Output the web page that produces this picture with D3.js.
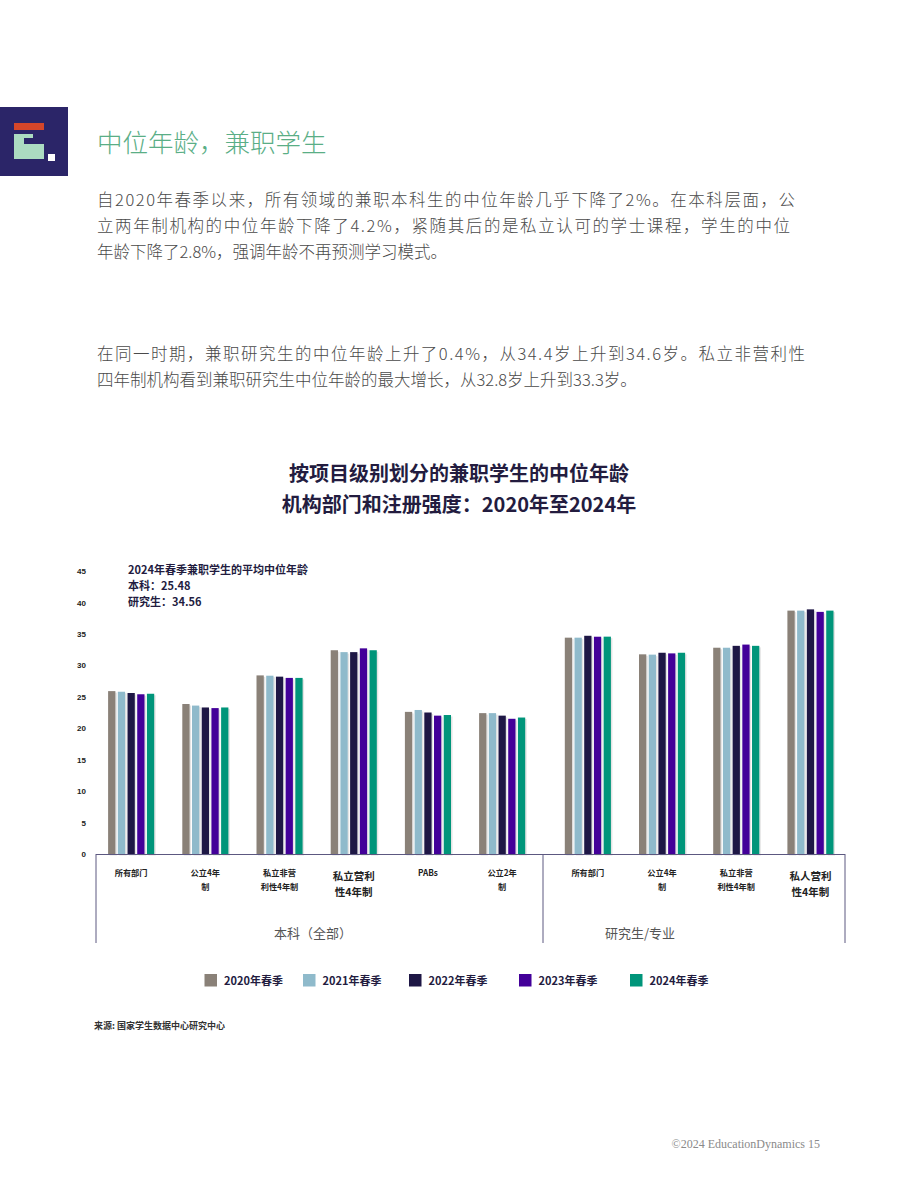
<!DOCTYPE html>
<html lang="zh">
<head>
<meta charset="UTF-8">
<title>中位年龄，兼职学生</title>
<style>
    body { margin: 0; background: #fff; }
    svg { display: block; font-family: "Noto Sans CJK SC", "Noto Sans", sans-serif; }
    .para { font-size: 16.5px; fill: #4a4a4a; font-weight: 300; }
    .tick-label { font-size: 8px; font-weight: 700; fill: #222; }
    .cat { font-weight: 700; fill: #222; }
</style>
</head>
<body>
<div id="chart"></div>
<script src="https://d3js.org/d3.v7.min.js"></script>
<script>
    // data
    var years = ["2020年春季", "2021年春季", "2022年春季", "2023年春季", "2024年春季"];
    var ugCats = ["所有部门", "公立4年\n制", "私立非营\n利性4年制", "私立营利\n性4年制", "PABs", "公立2年\n制"];
    var grCats = ["所有部门", "公立4年\n制", "私立非营\n利性4年制", "私人营利\n性4年制"];
    var v2020 = [25.9, 23.85, 28.4, 32.4, 22.6, 22.4, 34.4, 31.75, 32.8, 38.7];
    var v2021 = [25.8, 23.6, 28.35, 32.1, 22.9, 22.4, 34.4, 31.7, 32.8, 38.7];
    var v2022 = [25.6, 23.3, 28.2, 32.1, 22.5, 22.0, 34.7, 32.0, 33.1, 38.9];
    var v2023 = [25.4, 23.2, 28.0, 32.7, 22.0, 21.5, 34.55, 31.9, 33.3, 38.5];
    var v2024 = [25.48, 23.3, 28.0, 32.4, 22.1, 21.7, 34.56, 32.0, 33.1, 38.7];
    var yTicks = [0, 5, 10, 15, 20, 25, 30, 35, 40, 45];
    var colors = ["#8a8178", "#8fbacb", "#1e1745", "#430099", "#00957a"];
    var bigLabels = ["私立营利\n性4年制", "私人营利\n性4年制"];

    var series = [v2020, v2021, v2022, v2023, v2024];

    var svg = d3.select("#chart").append("svg")
        .attr("width", 920)
        .attr("height", 1191);

    // header logo
    var logo = svg.append("g");
    logo.append("rect").attr("x", 0).attr("y", 107).attr("width", 68).attr("height", 69).attr("fill", "#2b2568");
    logo.append("rect").attr("x", 14).attr("y", 123).attr("width", 30).attr("height", 7).attr("fill", "#d5462a");
    logo.append("path").attr("d", "M14,134 H33 V138 H24 V144 H44 V159 H14 Z").attr("fill", "#acdbc1");
    logo.append("rect").attr("x", 48).attr("y", 154).attr("width", 7).attr("height", 7).attr("fill", "#fff");

    svg.append("text").attr("x", 97).attr("y", 152)
        .attr("font-size", 25.5).attr("font-weight", 300).attr("fill", "#5aae86")
        .text("中位年龄，兼职学生");

    var para1 = ["自2020年春季以来，所有领域的兼职本科生的中位年龄几乎下降了2%。在本科层面，公",
        "立两年制机构的中位年龄下降了4.2%，紧随其后的是私立认可的学士课程，学生的中位",
        "年龄下降了2.8%，强调年龄不再预测学习模式。"];
    var para2 = ["在同一时期，兼职研究生的中位年龄上升了0.4%，从34.4岁上升到34.6岁。私立非营利性",
        "四年制机构看到兼职研究生中位年龄的最大增长，从32.8岁上升到33.3岁。"];
    var len1 = [698, 693, null], len2 = [708, null];

    para1.forEach(function(t, i) {
        var el = svg.append("text").attr("class", "para").attr("x", 97).attr("y", 206 + i * 26).text(t);
        if (len1[i]) el.attr("textLength", len1[i]).attr("lengthAdjust", "spacing");
    });
    para2.forEach(function(t, i) {
        var el = svg.append("text").attr("class", "para").attr("x", 97).attr("y", 360 + i * 26).text(t);
        if (len2[i]) el.attr("textLength", len2[i]).attr("lengthAdjust", "spacing");
    });

    // chart title
    svg.append("text").attr("x", 459).attr("y", 481).attr("text-anchor", "middle")
        .attr("font-size", 20).attr("font-weight", 700).attr("fill", "#231c3f")
        .text("按项目级别划分的兼职学生的中位年龄");
    svg.append("text").attr("x", 459).attr("y", 512).attr("text-anchor", "middle")
        .attr("font-size", 20).attr("font-weight", 700).attr("fill", "#231c3f")
        .text("机构部门和注册强度：2020年至2024年");

    // scales
    var y = d3.scaleLinear().domain([0, 45]).range([854, 571]);
    var xUg = d3.scaleBand().domain(ugCats).range([94, 539.2]);
    var xGr = d3.scaleBand().domain(grCats).range([550.7, 847.5]);
    var inner = d3.scaleBand().domain(years).range([0, 46.1]).paddingInner(0.25);

    var groups = ugCats.map(function(c, i) { return {cat: c, idx: i, cx: xUg(c) + xUg.bandwidth() / 2}; })
        .concat(grCats.map(function(c, i) { return {cat: c, idx: i + ugCats.length, cx: xGr(c) + xGr.bandwidth() / 2}; }));

    // y axis labels
    var yAxis = svg.append("g").attr("transform", "translate(86,0)")
        .call(d3.axisLeft(y).tickValues(yTicks).tickSize(0).tickPadding(0));
    yAxis.select(".domain").remove();
    yAxis.selectAll("text").attr("class", "tick-label").attr("font-family", null).attr("font-size", null);

    // bars
    var g = svg.append("g");
    groups.forEach(function(gr) {
        var x0 = gr.cx - 23;
        var bars = years.map(function(yr, s) { return {yr: yr, s: s, v: series[s][gr.idx]}; });
        g.selectAll(null).data(bars).enter().append("rect")
            .attr("x", function(d) { return x0 + inner(d.yr) + 1.5; })
            .attr("y", function(d) { return y(d.v) + 1.5; })
            .attr("width", inner.bandwidth())
            .attr("height", function(d) { return y(0) - y(d.v); })
            .attr("fill", "#d9d9d9").attr("opacity", 0.7);
        g.selectAll(null).data(bars).enter().append("rect")
            .attr("x", function(d) { return x0 + inner(d.yr); })
            .attr("y", function(d) { return y(d.v); })
            .attr("width", inner.bandwidth())
            .attr("height", function(d) { return y(0) - y(d.v); })
            .attr("fill", function(d) { return colors[d.s]; });
    });

    // axis line and section dividers
    var lineColor = "#5c5880";
    svg.append("line").attr("x1", 96).attr("x2", 845).attr("y1", y(0) + 0.5).attr("y2", y(0) + 0.5)
        .attr("stroke", lineColor).attr("stroke-width", 1.2);
    [96, 543, 845].forEach(function(x) {
        svg.append("line").attr("x1", x).attr("x2", x).attr("y1", y(0)).attr("y2", 943)
            .attr("stroke", lineColor).attr("stroke-width", 1);
    });

    // category labels
    groups.forEach(function(gr) {
        var big = bigLabels.indexOf(gr.cat) >= 0;
        var lines = gr.cat.split("\n");
        var t = svg.append("text").attr("class", "cat")
            .attr("text-anchor", "middle")
            .attr("font-size", big ? 10.5 : 8.2);
        lines.forEach(function(l, i) {
            t.append("tspan").attr("x", gr.cx)
                .attr("y", (big ? 880 : 876) + i * (big ? 16 : 14))
                .text(l);
        });
    });

    svg.append("text").attr("x", 313).attr("y", 938).attr("text-anchor", "middle")
        .attr("font-size", 13).attr("fill", "#555").text("本科（全部）");
    svg.append("text").attr("x", 640).attr("y", 938).attr("text-anchor", "middle")
        .attr("font-size", 13).attr("fill", "#555").text("研究生/专业");

    // annotation
    var ann = ["2024年春季兼职学生的平均中位年龄", "本科：25.48", "研究生：34.56"];
    ann.forEach(function(t, i) {
        svg.append("text").attr("x", 128).attr("y", 574 + i * 16)
            .attr("font-size", 11).attr("font-weight", 700).attr("fill", "#231c3f").text(t);
    });

    // legend
    var legX = [204.5, 303, 409, 519, 630];
    var leg = svg.append("g");
    years.forEach(function(yr, i) {
        leg.append("rect").attr("x", legX[i]).attr("y", 974).attr("width", 12.5).attr("height", 12.5)
            .attr("fill", colors[i]);
        leg.append("text").attr("x", legX[i] + 19.5).attr("y", 984.5)
            .attr("font-size", 11).attr("font-weight", 700).attr("fill", "#231c3f").text(yr);
    });

    svg.append("text").attr("x", 94).attr("y", 1029)
        .attr("font-size", 9).attr("font-weight", 700).attr("fill", "#333")
        .text("来源: 国家学生数据中心研究中心");

    svg.append("text").attr("x", 820).attr("y", 1148).attr("text-anchor", "end")
        .attr("font-family", "'Liberation Serif', 'DejaVu Serif', serif")
        .attr("font-size", 12).attr("fill", "#8a8a8a")
        .text("©2024 EducationDynamics 15");
</script>
</body>
</html>
